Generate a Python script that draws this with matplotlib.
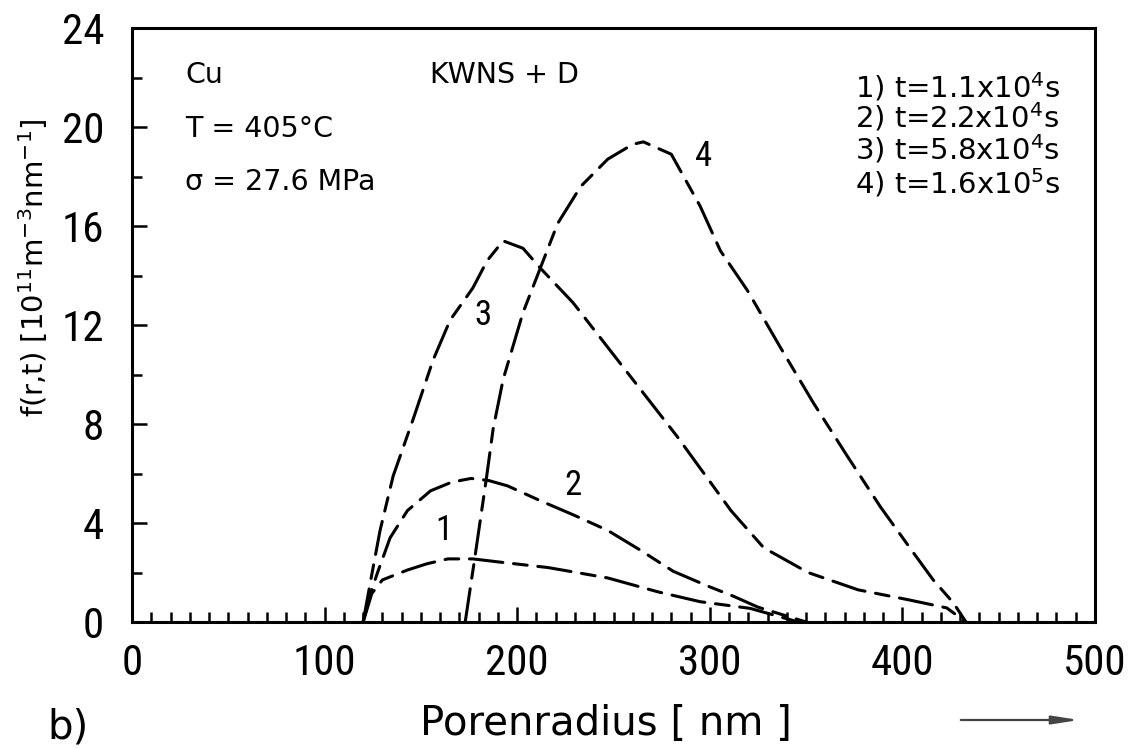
import matplotlib
matplotlib.use("Agg")
import matplotlib.pyplot as plt
from matplotlib import font_manager
from matplotlib.ticker import MultipleLocator

# ---- data ----
r1 = [120, 124.5, 130, 143, 153, 164, 177, 191, 216, 247, 273, 295, 321, 346]
f1 = [0, 1.15, 1.7, 2.1, 2.35, 2.55, 2.55, 2.42, 2.2, 1.78, 1.22, 0.82, 0.55, 0]

r2 = [120, 124, 127.5, 134, 143, 155, 166, 176, 185, 195, 212, 230, 247, 264, 281, 299, 312, 325, 350]
f2 = [0, 1.2, 2.0, 3.4, 4.5, 5.3, 5.65, 5.8, 5.72, 5.5, 4.9, 4.3, 3.7, 2.9, 2.05, 1.45, 1.05, 0.6, 0]

r3 = [120, 124.7, 128.8, 135.6, 146, 156.4, 165.2, 177, 184.4, 192.7, 203, 212, 229, 247, 264, 283,
      311, 328, 351, 377, 403, 423, 433]
f3 = [0, 2.0, 3.7, 5.9, 8.2, 10.6, 12.2, 13.5, 14.6, 15.4, 15.1, 14.3, 12.9, 11.1, 9.4, 7.5,
      4.5, 3.0, 2.0, 1.3, 0.9, 0.57, 0]

r4 = [173, 178, 184, 187.5, 192.7, 203, 212, 221, 233, 247, 260, 265.5, 280, 285, 295, 305.5,
      319.5, 336.6, 353.8, 371.4, 388.6, 405.7, 416, 426.5, 433]
f4 = [0, 2.6, 5.8, 7.8, 9.8, 12.5, 14.3, 16.1, 17.6, 18.7, 19.3, 19.4, 18.9, 18.2, 16.8, 15.0,
      13.4, 11.1, 8.85, 6.7, 4.65, 2.8, 1.7, 0.77, 0]

curve_ids = ["1", "2", "3", "4"]
label_pos = [(162, 3.7), (229, 5.5), (182, 12.4), (297, 18.8)]
legend_lines = [r"1) t=1.1x10$^{4}$s", r"2) t=2.2x10$^{4}$s",
                r"3) t=5.8x10$^{4}$s", r"4) t=1.6x10$^{5}$s"]
info_lines = ["Cu", "T = 405°C", "σ = 27.6 MPa"]
model_text = "KWNS + D"
xticks = [0, 100, 200, 300, 400, 500]
yticks = [0, 4, 8, 12, 16, 20, 24]

# ---- fonts ----
fonts = font_manager.fontManager.ttflist
names = {f.name for f in fonts}
tick_kw = dict(family=["DejaVu Sans"], size=26)
for cand in ["Roboto Condensed", "Liberation Sans Narrow", "Open Sans Condensed", "DejaVu Sans Condensed"]:
    if cand in names:
        tick_kw = dict(family=[cand, "DejaVu Sans"], size=31)
        break
else:
    if any(f.name == "DejaVu Sans" and f.stretch == "condensed" for f in fonts):
        tick_kw = dict(family=["DejaVu Sans"], size=30, stretch="condensed")
plt.rcParams["font.family"] = ["DejaVu Sans"]
plt.rcParams["mathtext.fontset"] = "dejavusans"

W, H = 1137, 749
fig = plt.figure(figsize=(W / 100, H / 100), dpi=100)
ax = fig.add_axes([132 / W, 1 - 622 / H, (1095 - 132) / W, (622 - 28) / H])

dash = (0, (11, 3.5, 4.5, 3.5))
for r, f in [(r1, f1), (r2, f2), (r3, f3), (r4, f4)]:
    ax.plot(r, f, color="black", lw=2.2, linestyle=dash, dash_capstyle="round")

for cid, (x, y) in zip(curve_ids, label_pos):
    t = ax.text(x, y, cid, fontsize=25, ha="center", va="center", family=tick_kw["family"])
    if "stretch" in tick_kw:
        t.set_fontstretch(tick_kw["stretch"])

ax.set_xlim(0, 500)
ax.set_ylim(0, 24)
ax.xaxis.set_minor_locator(MultipleLocator(10))
ax.yaxis.set_minor_locator(MultipleLocator(2))
ax.set_xticks(xticks)
ax.set_yticks(yticks)
ax.set_xticklabels([str(v) for v in xticks])
ax.set_yticklabels([str(v) for v in yticks])
ax.tick_params(which="both", direction="in", top=False, right=False, width=1.8)
ax.tick_params(which="major", length=11)
ax.tick_params(which="minor", length=7)
ax.tick_params(axis="y", which="major", pad=20)
ax.tick_params(axis="x", which="major", pad=15)
for lab in ax.get_xticklabels() + ax.get_yticklabels():
    lab.set_family(tick_kw["family"])
    lab.set_fontsize(tick_kw["size"])
    if "stretch" in tick_kw:
        lab.set_fontstretch(tick_kw["stretch"])
for s in ax.spines.values():
    s.set_linewidth(2.2)

# info text
ys_info = [21.78, 19.6, 17.45]
for t, y in zip(info_lines, ys_info):
    ax.text(27.5, y, t, fontsize=20.5, ha="left", va="baseline")
ax.text(154.7, 21.78, model_text, fontsize=20.5, ha="left", va="baseline")

ys_leg = [21.2, 19.96, 18.67, 17.33]
for t, y in zip(legend_lines, ys_leg):
    ax.text(375.6, y, t, fontsize=21, ha="left", va="baseline")

# axis labels
fig.text(33 / W, 1 - 268 / H, r"f(r,t) [10$^{11}$m$^{-3}$nm$^{-1}$]", rotation=90,
         fontsize=21, ha="center", va="center")
fig.text(606 / W, (H - 735) / H, "Porenradius [ nm ]", fontsize=29, ha="center", va="baseline")
fig.text(47 / W, (H - 738) / H, "b)", fontsize=29, ha="left", va="baseline")
ax.annotate("", xy=(1082, H - 720), xytext=(958, H - 720), xycoords="figure pixels",
            textcoords="figure pixels",
            arrowprops=dict(arrowstyle="-|>,head_length=1.6,head_width=0.25", color="#444444", lw=1.6))

fig.savefig("out.png", dpi=100)
